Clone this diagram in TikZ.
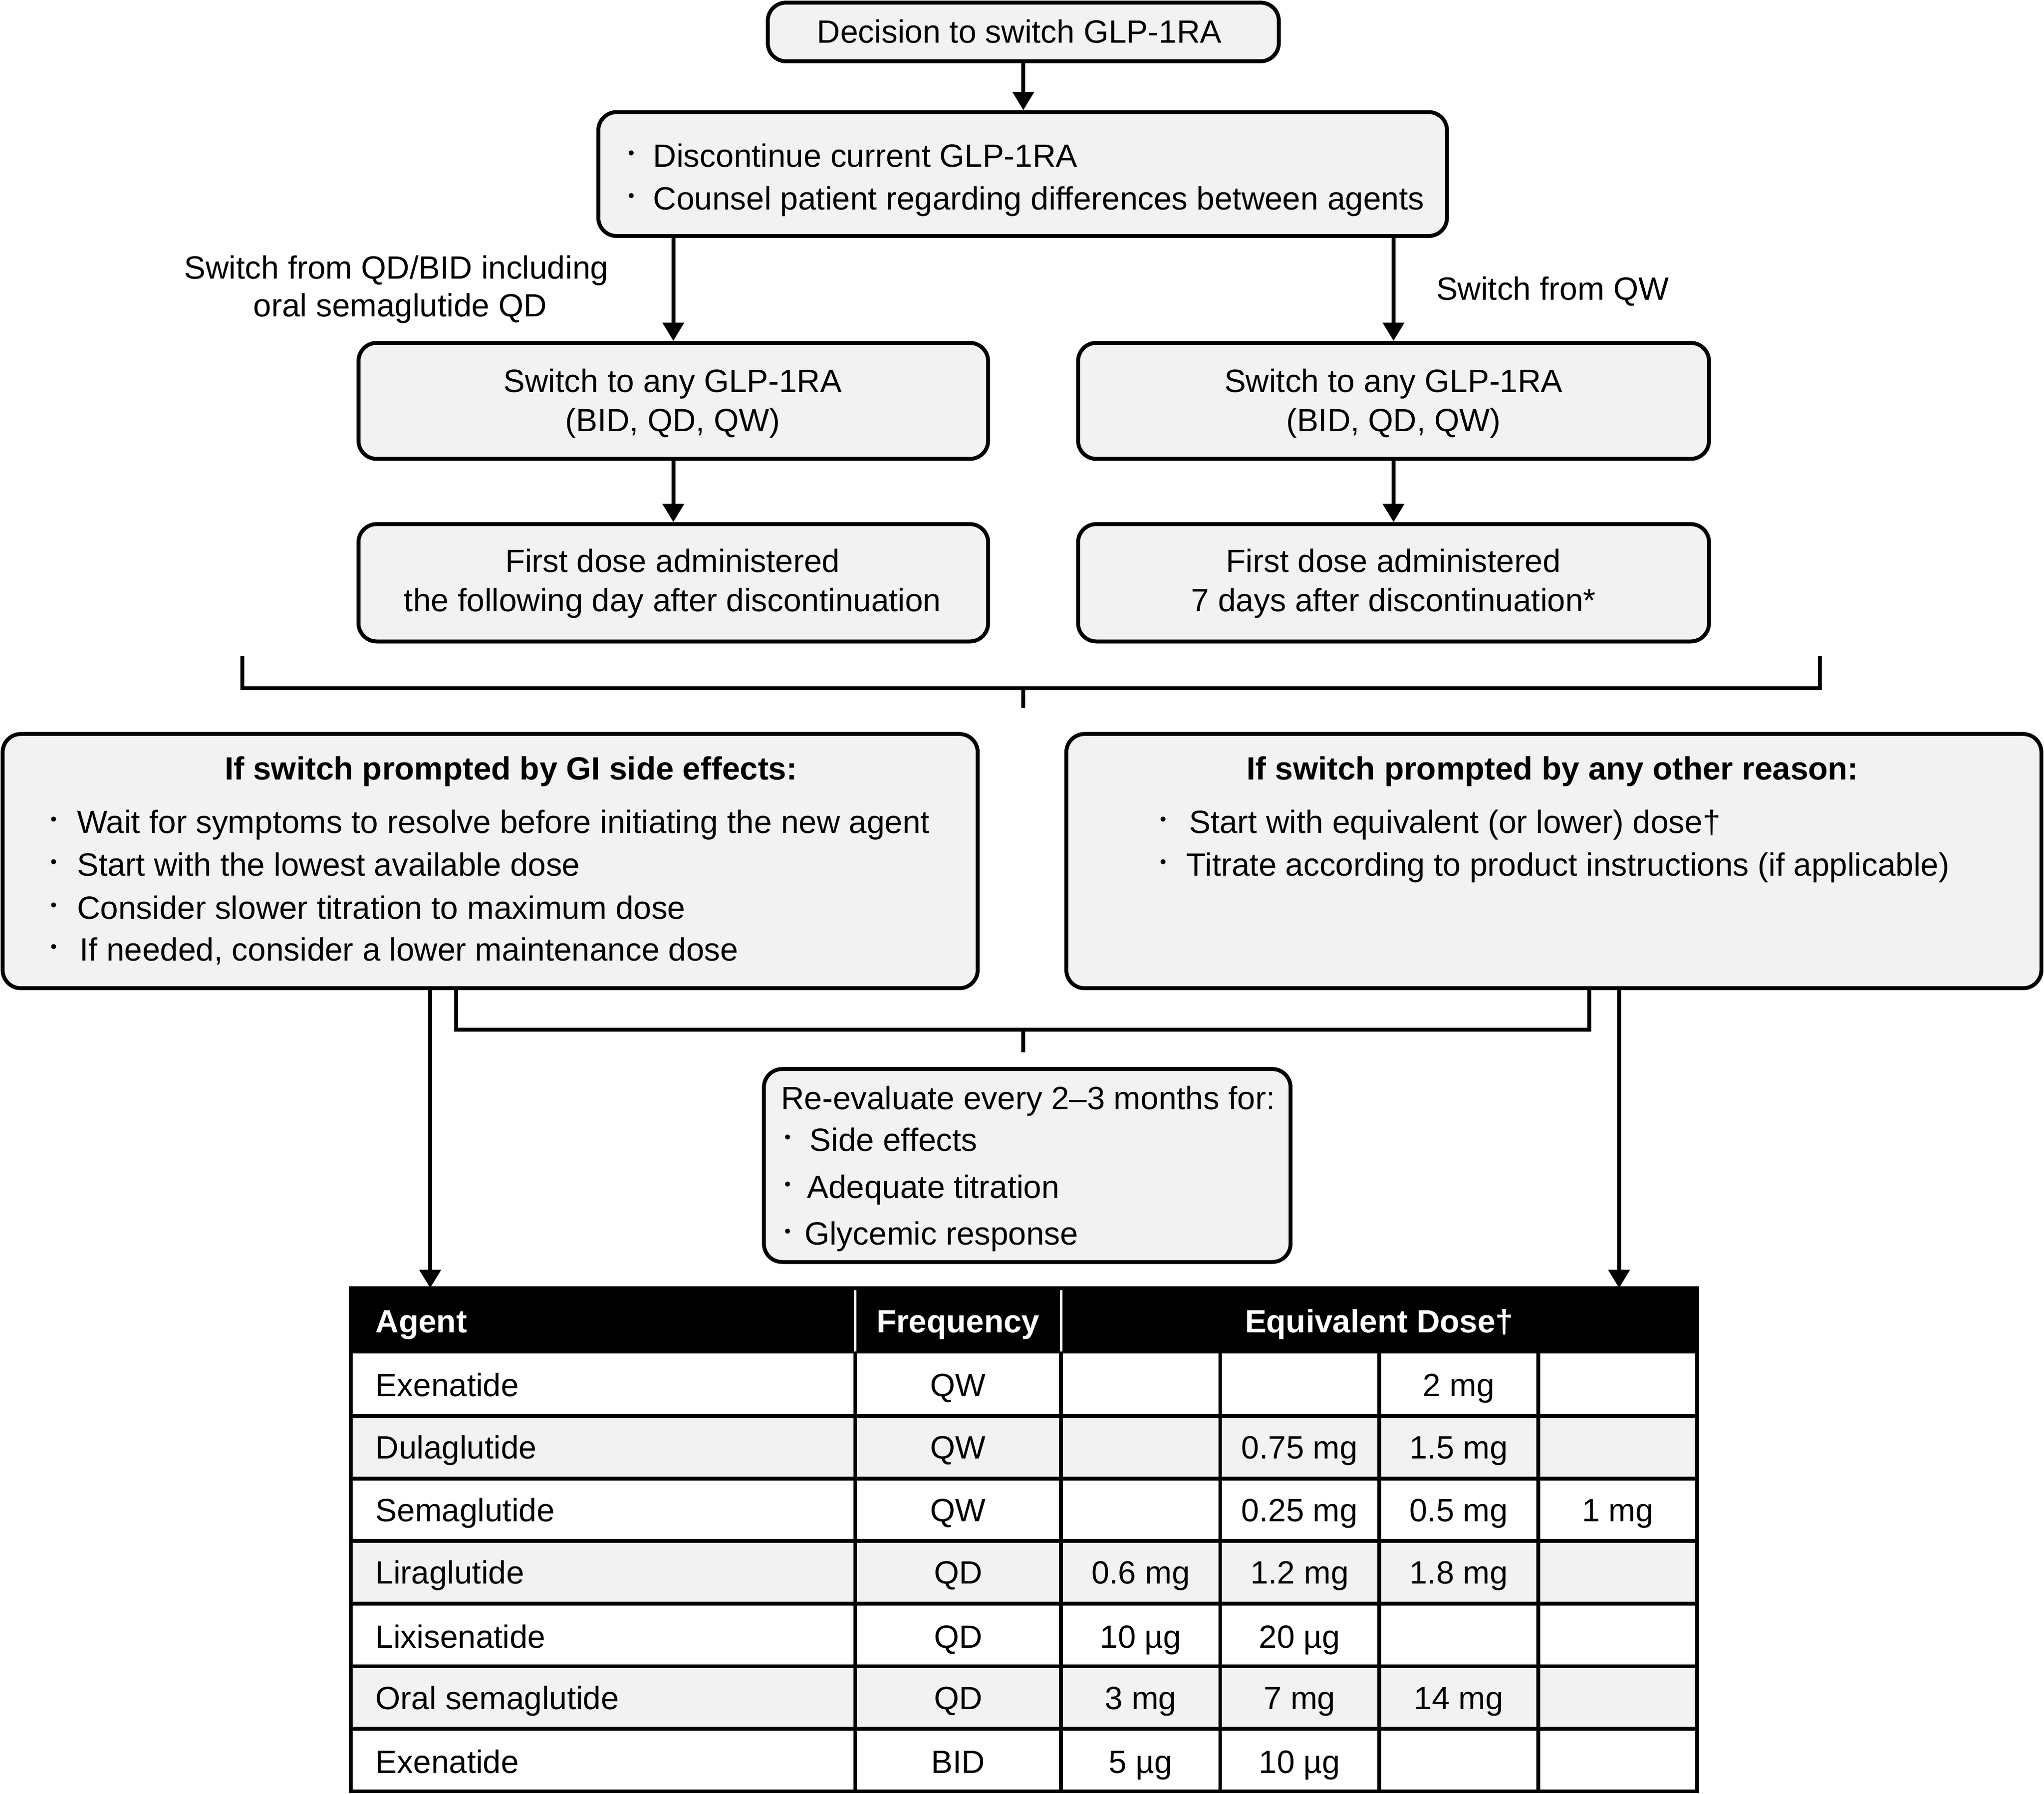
\documentclass[tikz,border=0pt]{standalone}
\usepackage{fontspec}
\setmainfont{Liberation Sans}
\usetikzlibrary{arrows.meta}
\definecolor{boxgray}{RGB}{242,242,242}
\tikzset{
  box/.style={draw=black, line width=3pt, fill=boxgray, rounded corners=14pt, inner sep=0pt},
  txt/.style={inner sep=0pt, font=\fontsize{24.7}{30}\selectfont},
  arr/.style={line width=3pt, -{Triangle[width=16pt,length=14pt]}},
  brk/.style={line width=3pt},
  rule/.style={line width=2.9pt},
}
\newcommand{\bul}[1]{\makebox[0pt][c]{\raisebox{6pt}{\fontsize{14}{14}\selectfont •}}\hspace{#1pt}}
\begin{document}
\begin{tikzpicture}[x=1pt,y=-1pt]
\useasboundingbox (0,0) rectangle (1568,1376);

% boxes
  \node[box, minimum width=392, minimum height=45] (decide) at (785,24.5) {};
  \node[box, minimum width=651, minimum height=95] (stop) at (784.5,133.5) {};
  \node[box, minimum width=483, minimum height=89] (swL) at (516.5,307.5) {};
  \node[box, minimum width=484, minimum height=89] (swR) at (1069,307.5) {};
  \node[box, minimum width=483, minimum height=90] (doseL) at (516.5,447) {};
  \node[box, minimum width=484, minimum height=90] (doseR) at (1069,447) {};
  \node[box, minimum width=748, minimum height=195] (gi) at (376,660.5) {};
  \node[box, minimum width=748, minimum height=195] (other) at (1192,660.5) {};
  \node[box, minimum width=404, minimum height=148] (reeval) at (788,894) {};

% box texts
  \node[txt, anchor=base] (tdecide) at (782,33) {Decision to switch GLP-1RA};
  \node[txt, anchor=base west] (tstop1) at (484,128) {\bul{17}Discontinue current GLP-1RA};
  \node[txt, anchor=base west] (tstop2) at (484,161) {\bul{17}Counsel patient regarding differences between agents};
  \node[txt, anchor=base] (tswL1) at (516,301) {Switch to any GLP-1RA};
  \node[txt, anchor=base] (tswL2) at (516,331) {(BID, QD, QW)};
  \node[txt, anchor=base] (tswR1) at (1069,301) {Switch to any GLP-1RA};
  \node[txt, anchor=base] (tswR2) at (1069,331) {(BID, QD, QW)};
  \node[txt, anchor=base] (tdoseL1) at (516,439) {First dose administered};
  \node[txt, anchor=base] (tdoseL2) at (516,469) {the following day after discontinuation};
  \node[txt, anchor=base] (tdoseR1) at (1069,439) {First dose administered};
  \node[txt, anchor=base] (tdoseR2) at (1069,469) {7 days after discontinuation*};

  \node[txt, anchor=base, font=\fontsize{24.7}{30}\selectfont\bfseries] (tgi) at (392,598) {If switch prompted by GI side effects:};
  \node[txt, anchor=base west] (tgi1) at (41,639) {\bul{18}Wait for symptoms to resolve before initiating the new agent};
  \node[txt, anchor=base west] (tgi2) at (41,672) {\bul{18}Start with the lowest available dose};
  \node[txt, anchor=base west] (tgi3) at (41,705) {\bul{18}Consider slower titration to maximum dose};
  \node[txt, anchor=base west] (tgi4) at (41,737) {\bul{20}If needed, consider a lower maintenance dose};
  \node[txt, anchor=base, font=\fontsize{24.7}{30}\selectfont\bfseries] (tother) at (1191,598) {If switch prompted by any other reason:};
  \node[txt, anchor=base west] (tother1) at (892,639) {\bul{20}Start with equivalent (or lower) dose†};
  \node[txt, anchor=base west] (tother2) at (892,672) {\bul{18}Titrate according to product instructions (if applicable)};

  \node[txt, anchor=base west] (treeval) at (599,851) {Re-evaluate every 2–3 months for:};
  \node[txt, anchor=base west] (treeval1) at (604,883) {\bul{17}Side effects};
  \node[txt, anchor=base west] (treeval2) at (604,919) {\bul{15}Adequate titration};
  \node[txt, anchor=base west] (treeval3) at (604,955) {\bul{13}Glycemic response};

% branch labels
  \node[txt, anchor=base] (lblL1) at (304,214) {Switch from QD/BID including};
  \node[txt, anchor=base] (lblL2) at (307,243) {oral semaglutide QD};
  \node[txt, anchor=base] (lblR) at (1191,230) {Switch from QW};

% connectors
  \draw[arr] (decide.south) -- (decide.south |- stop.north);
  \draw[arr] (swL.north |- stop.south) -- (swL.north);
  \draw[arr] (swR.north |- stop.south) -- (swR.north);
  \draw[arr] (swL) -- (doseL);
  \draw[arr] (swR) -- (doseR);

% upper bracket
  \coordinate (bl) at (186,503);
  \coordinate (br) at (1396,503);
  \coordinate (bm) at (785,528);
  \draw[brk] (bl) -- (bl |- bm) -- (br |- bm) -- (br);
  \draw[brk] (bm) -- ++(0,15);

% lower bracket
  \coordinate (ml) at (350,790);
  \coordinate (mr) at (1219,790);
  \coordinate (mm) at (785,790);
  \draw[brk] (gi.south -| ml) -- (ml) -- (mr) -- (other.south -| mr);
  \draw[brk] (mm) -- ++(0,17);

% long arrows to table
  \coordinate (tl) at (330,988);
  \coordinate (tr) at (1242,988);
  \draw[arr] (gi.south -| tl) -- (tl);
  \draw[arr] (other.south -| tr) -- (tr);

% table
  \fill[boxgray] (269,1086) rectangle (1302,1134);
  \fill[boxgray] (269,1182) rectangle (1302,1230);
  \fill[boxgray] (269,1278) rectangle (1302,1326);
  \fill[black] (269,988) rectangle (1302,1038);
  \foreach \y in {1086,1134,...,1326} \draw[rule] (269,\y) -- (1302,\y);
  \foreach \x in {656,814,936,1058,1180} \draw[rule] (\x,1038) -- (\x,1374);
  \draw[rule] (269,988) rectangle (1302,1374);
  \draw[white, line width=2pt] (656,989.5) -- (656,1036.5);
  \draw[white, line width=2pt] (814,989.5) -- (814,1036.5);

% table header
  \node[txt, anchor=base west, text=white, font=\fontsize{24.7}{30}\selectfont\bfseries] (hagent) at (288,1022) {Agent};
  \node[txt, anchor=base, text=white, font=\fontsize{24.7}{30}\selectfont\bfseries] (hfreq) at (735,1022) {Frequency};
  \node[txt, anchor=base, text=white, font=\fontsize{24.7}{30}\selectfont\bfseries] (hdose) at (1058,1022) {Equivalent Dose†};

% row 1
\pgfmathsetmacro{\yo}{1071}
  \node[txt, anchor=base west] (ag1) at (288,\yo) {Exenatide};
  \node[txt, anchor=base] (fq1) at (735,\yo) {QW};
  \node[txt, anchor=base] (dc1) at (1119,\yo) {2 mg};

% row 2
\pgfmathsetmacro{\yo}{1119}
  \node[txt, anchor=base west] (ag2) at (288,\yo) {Dulaglutide};
  \node[txt, anchor=base] (fq2) at (735,\yo) {QW};
  \node[txt, anchor=base] (db2) at (997,\yo) {0.75 mg};
  \node[txt, anchor=base] (dc2) at (1119,\yo) {1.5 mg};

% row 3
\pgfmathsetmacro{\yo}{1167}
  \node[txt, anchor=base west] (ag3) at (288,\yo) {Semaglutide};
  \node[txt, anchor=base] (fq3) at (735,\yo) {QW};
  \node[txt, anchor=base] (db3) at (997,\yo) {0.25 mg};
  \node[txt, anchor=base] (dc3) at (1119,\yo) {0.5 mg};
  \node[txt, anchor=base] (dd3) at (1241,\yo) {1 mg};

% row 4
\pgfmathsetmacro{\yo}{1215}
  \node[txt, anchor=base west] (ag4) at (288,\yo) {Liraglutide};
  \node[txt, anchor=base] (fq4) at (735,\yo) {QD};
  \node[txt, anchor=base] (da4) at (875,\yo) {0.6 mg};
  \node[txt, anchor=base] (db4) at (997,\yo) {1.2 mg};
  \node[txt, anchor=base] (dc4) at (1119,\yo) {1.8 mg};

% row 5
\pgfmathsetmacro{\yo}{1264}
  \node[txt, anchor=base west] (ag5) at (288,\yo) {Lixisenatide};
  \node[txt, anchor=base] (fq5) at (735,\yo) {QD};
  \node[txt, anchor=base] (da5) at (875,\yo) {10 µg};
  \node[txt, anchor=base] (db5) at (997,\yo) {20 µg};

% row 6
\pgfmathsetmacro{\yo}{1311}
  \node[txt, anchor=base west] (ag6) at (288,\yo) {Oral semaglutide};
  \node[txt, anchor=base] (fq6) at (735,\yo) {QD};
  \node[txt, anchor=base] (da6) at (875,\yo) {3 mg};
  \node[txt, anchor=base] (db6) at (997,\yo) {7 mg};
  \node[txt, anchor=base] (dc6) at (1119,\yo) {14 mg};

% row 7
\pgfmathsetmacro{\yo}{1360}
  \node[txt, anchor=base west] (ag7) at (288,\yo) {Exenatide};
  \node[txt, anchor=base] (fq7) at (735,\yo) {BID};
  \node[txt, anchor=base] (da7) at (875,\yo) {5 µg};
  \node[txt, anchor=base] (db7) at (997,\yo) {10 µg};

\end{tikzpicture}
\end{document}
